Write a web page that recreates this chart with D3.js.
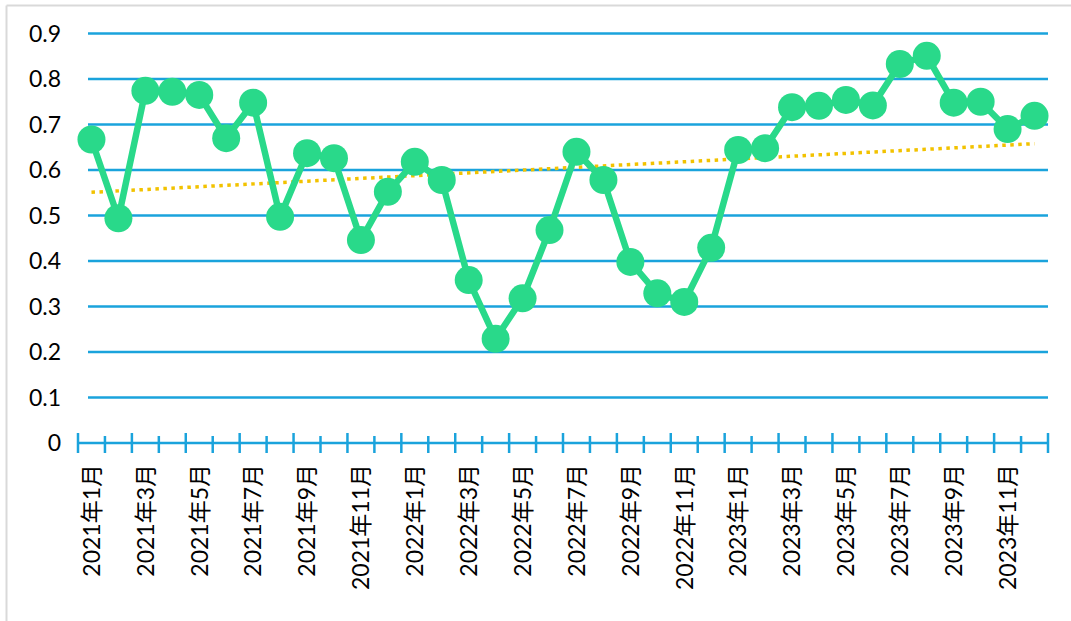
<!DOCTYPE html>
<html>
<head>
<meta charset="utf-8">
<script src="https://cdn.jsdelivr.net/npm/d3@7/dist/d3.min.js"></script>
<style>
  html, body { margin: 0; padding: 0; background: #fff; }
  svg { display: block; }
  text { font-family: Lato, "Noto Sans CJK SC", sans-serif; fill: #000; }
</style>
</head>
<body>
<svg id="chart" width="1071" height="621"></svg>
<script>
const years = [2021, 2022, 2023];
const monthsOfYear = [1,2,3,4,5,6,7,8,9,10,11,12];
const categories = years.flatMap(y => monthsOfYear.map(m => `${y}年${m}月`));
const values = [
  0.667, 0.494, 0.774, 0.772, 0.765, 0.670, 0.748, 0.497, 0.637, 0.626, 0.446, 0.552,
  0.618, 0.578, 0.358, 0.229, 0.318, 0.468, 0.640, 0.578, 0.398, 0.329, 0.310, 0.429,
  0.644, 0.648, 0.738, 0.741, 0.754, 0.742, 0.833, 0.851, 0.748, 0.750, 0.690, 0.719
];
const yTicks = [0, 0.1, 0.2, 0.3, 0.4, 0.5, 0.6, 0.7, 0.8, 0.9];
const xTickLabels = categories.filter((c, i) => i % 2 === 0);

const svg = d3.select("#chart");

// frame
svg.append("line").attr("x1", 6.5).attr("x2", 1071).attr("y1", 5.5).attr("y2", 5.5)
  .attr("stroke", "#d9d9d9").attr("stroke-width", 2);
svg.append("line").attr("x1", 6.5).attr("x2", 6.5).attr("y1", 5.5).attr("y2", 621)
  .attr("stroke", "#d9d9d9").attr("stroke-width", 2);

const x = d3.scaleBand().domain(categories).range([78, 1048]).paddingInner(0).paddingOuter(0);
const y = d3.scaleLinear().domain([0, 0.9]).range([443, 33.5]);
const cx = c => x(c) + x.bandwidth() / 2;

const blue = "#1aa3dc";

// gridlines
svg.append("g").selectAll("line").data(yTicks.filter(t => t > 0)).join("line")
  .attr("x1", 88).attr("x2", 1048)
  .attr("y1", d => y(d)).attr("y2", d => y(d))
  .attr("stroke", blue).attr("stroke-width", 2.5);

// y labels
svg.append("g").selectAll("text").data(yTicks).join("text")
  .attr("x", 61).attr("y", d => y(d)).attr("dy", "0.36em")
  .attr("text-anchor", "end").attr("font-size", 23)
  .text(d => d3.format("")(d));

// x axis line
svg.append("line").attr("x1", 78).attr("x2", 1048).attr("y1", y(0)).attr("y2", y(0))
  .attr("stroke", blue).attr("stroke-width", 2.5);

// ticks at category boundaries
const boundaries = d3.range(categories.length + 1);
svg.append("g").selectAll("line").data(boundaries).join("line")
  .attr("x1", i => x.range()[0] + i * x.step())
  .attr("x2", i => x.range()[0] + i * x.step())
  .attr("y1", i => i % 2 === 0 ? y(0) - 10 : y(0) - 7)
  .attr("y2", i => y(0) + 10)
  .attr("stroke", blue).attr("stroke-width", 2.5);

// x labels
svg.append("g").selectAll("text").data(xTickLabels).join("text")
  .attr("transform", d => `translate(${cx(d)},${y(0) + 21}) rotate(-90)`)
  .attr("dy", "0.36em").attr("text-anchor", "end").attr("font-size", 23)
  .text(d => d);

// trend line (least squares)
const idx = values.map((v, i) => i);
const mx = d3.mean(idx), my = d3.mean(values);
const slope = d3.sum(idx, i => (i - mx) * (values[i] - my)) / d3.sum(idx, i => (i - mx) ** 2);
const intercept = my - slope * mx;
const n = values.length;
svg.append("line")
  .attr("x1", cx(categories[0])).attr("y1", y(intercept))
  .attr("x2", cx(categories[n - 1])).attr("y2", y(intercept + slope * (n - 1)))
  .attr("stroke", "#f2c200").attr("stroke-width", 3.5)
  .attr("stroke-dasharray", "3.5,4.5");

// series line
const green = "#29d98a";
svg.append("path").datum(values)
  .attr("d", d3.line().x((d, i) => cx(categories[i])).y(d => y(d)))
  .attr("fill", "none").attr("stroke", green).attr("stroke-width", 6.5)
  .attr("stroke-linejoin", "round");

svg.append("g").selectAll("circle").data(values).join("circle")
  .attr("cx", (d, i) => cx(categories[i])).attr("cy", d => y(d))
  .attr("r", 14).attr("fill", green);
</script>
</body>
</html>
